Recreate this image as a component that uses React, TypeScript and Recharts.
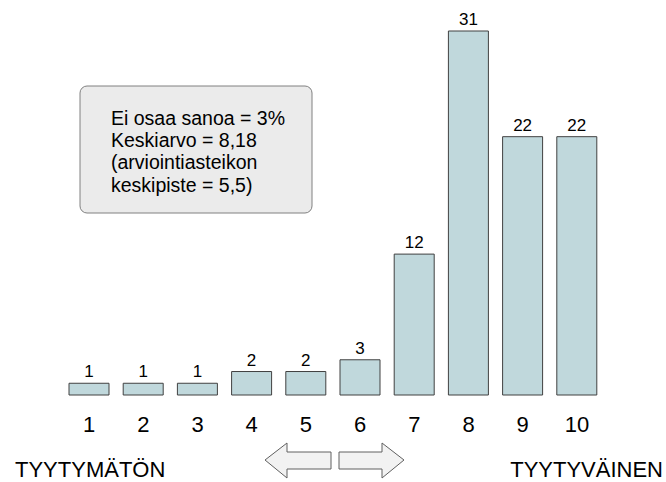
import { BarChart, Bar, XAxis, YAxis, LabelList } from 'recharts'

const categories = ['1', '2', '3', '4', '5', '6', '7', '8', '9', '10']
const shares = [1, 1, 1, 2, 2, 3, 12, 31, 22, 22]
const infoLines = [
  'Ei osaa sanoa = 3%',
  'Keskiarvo = 8,18',
  '(arviointiasteikon',
  'keskipiste = 5,5)',
]
const leftLabel = 'TYYTYMÄTÖN'
const rightLabel = 'TYYTYVÄINEN'

const data = categories.map((c, i) => ({ name: c, value: shares[i] }))

const font = 'Arial, "Liberation Sans", sans-serif'

export default function App() {
  return (
    <div style={{ position: 'absolute', left: 0, top: 0, width: 666, height: 482, background: '#fff', fontFamily: font }}>
      <BarChart
        width={666}
        height={482}
        data={data}
        margin={{ top: 31, right: 62, bottom: 57, left: 62 }}
        barSize={40}
      >
        <YAxis hide domain={[0, 31]} />
        <XAxis
          dataKey="name"
          height={30}
          axisLine={false}
          tickLine={false}
          tickSize={0}
          tickMargin={21}
          tick={{ fontSize: 22, fill: '#000', fontFamily: font }}
        />
        <Bar dataKey="value" fill="#c0d8dc" stroke="#404040" strokeWidth={1} isAnimationActive={false}>
          <LabelList dataKey="value" position="top" offset={6} fontSize={17} fill="#000" fontFamily={font} />
        </Bar>
      </BarChart>
      <svg width={666} height={482} style={{ position: 'absolute', left: 0, top: 0, pointerEvents: 'none' }}>
        <rect x={80} y={86} width={232} height={127} rx={7} fill="#ebebeb" stroke="#808080" />
        {infoLines.map((t, i) => (
          <text key={i} x={111} y={125 + i * 22.2} fontSize={19.5} fontFamily={font} fill="#000">
            {t}
          </text>
        ))}
        <path d="M265,460 L287,443 L287,452 L331,452 L331,469 L287,469 L287,478 Z" fill="#f2f2f2" stroke="#606060" />
        <path d="M404,460 L382,443 L382,452 L339,452 L339,469 L382,469 L382,478 Z" fill="#f2f2f2" stroke="#606060" />
        <text x={15} y={477} fontSize={22} fontFamily={font} fill="#000">{leftLabel}</text>
        <text x={663} y={477} fontSize={22} fontFamily={font} fill="#000" textAnchor="end">{rightLabel}</text>
      </svg>
    </div>
  )
}
